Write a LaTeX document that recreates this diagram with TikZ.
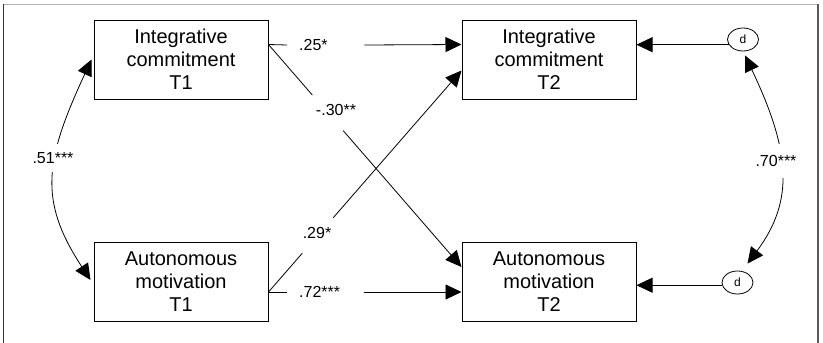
\documentclass[tikz,border=0pt]{standalone}
\usepackage{fontspec}
\setmainfont{Liberation Sans}
\usetikzlibrary{arrows.meta,calc,shapes.geometric}
\begin{document}
\begin{tikzpicture}[x=1pt,y=-1pt,
  box/.style={draw,line width=1pt,minimum width=174pt,minimum height=79pt,inner sep=0pt,align=center,font=\fontsize{20}{23}\selectfont},
  arr/.style={line width=0.8pt,-{Triangle[length=16pt,width=15pt]}},
  darr/.style={line width=0.8pt,{Triangle[length=16pt,width=15pt]}-{Triangle[length=16pt,width=15pt]}},
  ln/.style={line width=0.8pt},
  lab/.style={font=\fontsize{16}{18}\selectfont,inner sep=0pt},
  hlab/.style={lab,anchor=west,inner xsep=12pt,inner ysep=4pt,text width=53pt,align=left,minimum height=14pt},
  dist/.style={ellipse,draw,line width=0.8pt,minimum width=31pt,minimum height=23pt,inner sep=0pt,font=\fontsize{12}{14}\selectfont}]
\useasboundingbox (0,0) rectangle (823,343);
\fill[white] (0,0) rectangle (823,343);
% frame
\draw[gray!60,line width=1.2pt] (3,4.5) -- (818,4.5);
\draw[black!80,line width=1.2pt] (3.5,4) -- (3.5,343);
\draw[black!65,line width=2pt] (818,4) -- (818,343);
% boxes
\node[box] (ic1) at (181,59.5) {Integrative\\commitment\\T1};
\node[box] (am1) at (181,282) {Autonomous\\motivation\\T1};
\node[box] (ic2) at (549,59.5) {Integrative\\commitment\\T2};
\node[box] (am2) at (549,282) {Autonomous\\motivation\\T2};
\node[dist] (d1) at (743,39.5) {d};
\node[dist] (d2) at (737.5,282.5) {d};
% anchor points
\coordinate (ic1r) at ($(ic1.north east)+(0,25)$);
\coordinate (am1r) at ($(am1.north east)+(0,50)$);
\coordinate (ic2a) at ($(ic2.north west)+(0,25)$);
\coordinate (ic2b) at ($(ic2.north west)+(0,51)$);
\coordinate (am2a) at ($(am2.north west)+(0,25)$);
\coordinate (am2b) at ($(am2.north west)+(0,50)$);
% horizontal paths
\node[hlab] (l25) at (287,45) {.25*};
\draw[ln] (ic1r) -- (l25.west);
\draw[arr] (l25.east) -- (ic2a);
\node[hlab] (l72) at (287,292) {.72***};
\draw[ln] (am1r) -- (l72.west);
\draw[arr] (l72.east) -- (am2b);
% cross paths
\draw[ln] (ic1r) -- ($(ic1r)!0.227!(am2a)$);
\draw[arr] ($(ic1r)!0.387!(am2a)$) -- (am2a);
\node[lab] (l30) at (336,110) {-.30**};
\draw[ln] (am1r) -- ($(am1r)!0.175!(ic2b)$);
\draw[arr] ($(am1r)!0.335!(ic2b)$) -- (ic2b);
\node[lab] (l29) at (317,233) {.29*};
% disturbances
\draw[arr] (d1.200) -- (d1.200 -| ic2.east);
\draw[arr] (d2.190) -- (d2.190 -| am2.east);
% correlations
\draw[darr] ($(ic1.west)+(-2,0)$) .. controls (45,160) and (38,200) .. ($(am1.west)+(-3,-2)$);
\node[lab,fill=white,inner xsep=1pt,inner ysep=8pt] (l51) at (53,158) {.51***};
\draw[darr] ($(d1.south)+(2,4)$) .. controls (790,150) and (795,200) .. ($(d2.north)+(10,-7)$);
\node[lab,fill=white,inner xsep=1pt,inner ysep=11pt] (l70) at (776,161) {.70***};
\end{tikzpicture}
\end{document}
